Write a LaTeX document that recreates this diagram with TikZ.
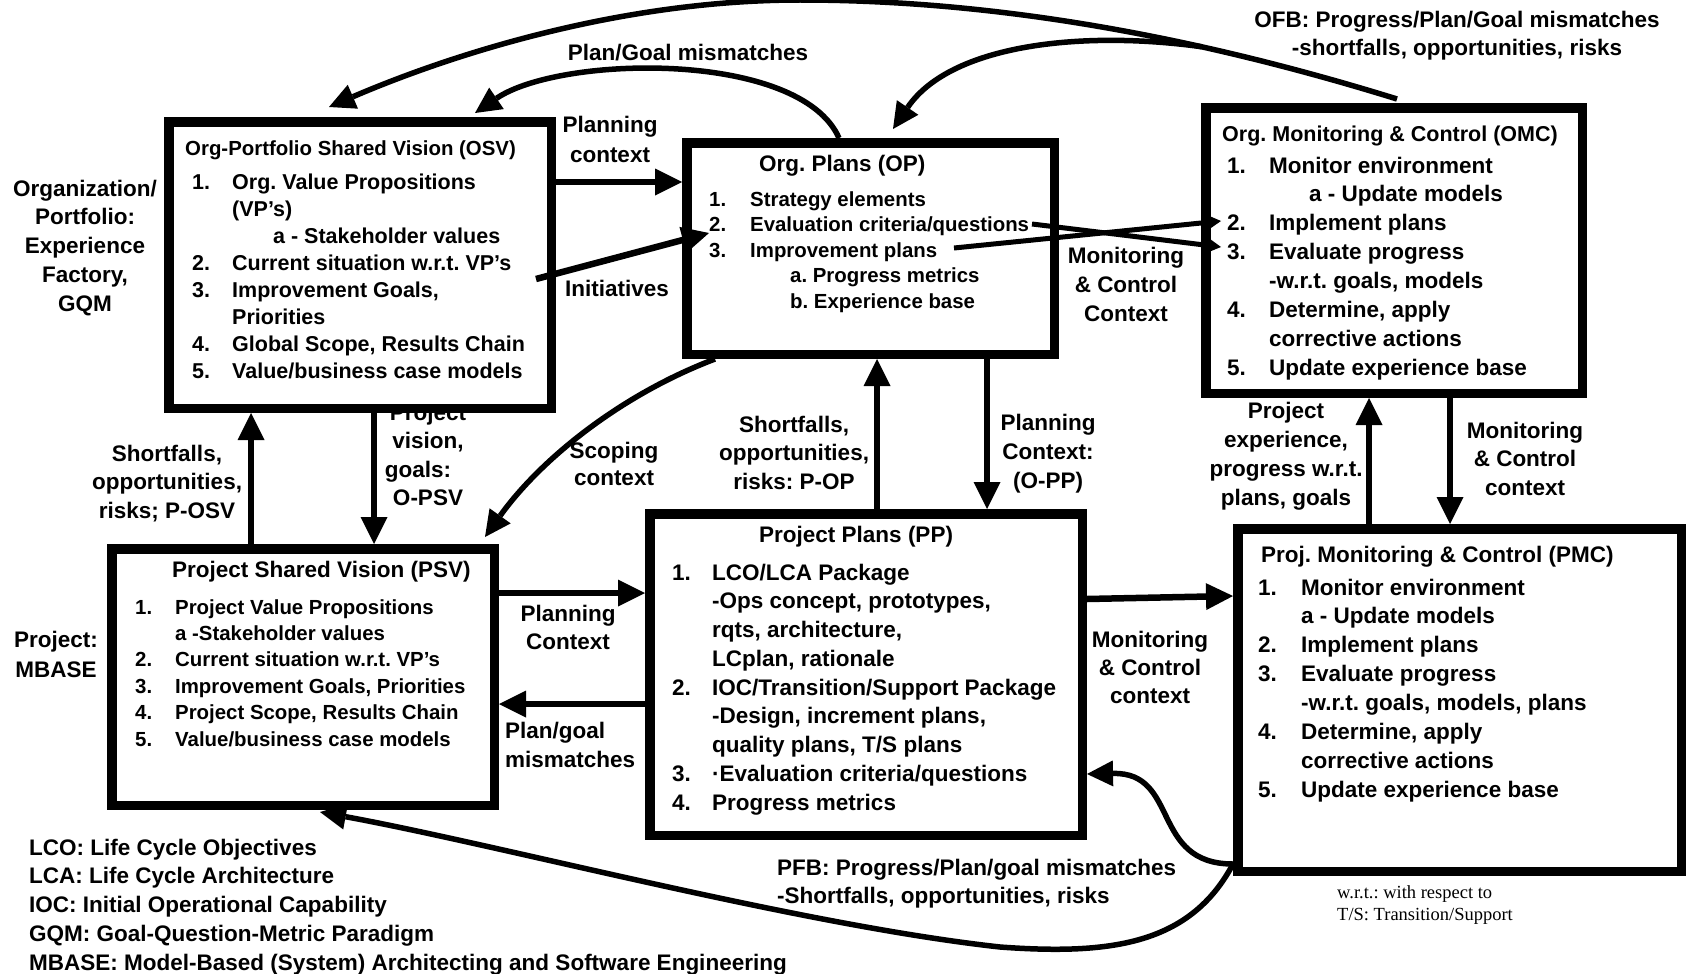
\documentclass[tikz,border=0pt]{standalone}
\usepackage{fontspec}
\setmainfont{Liberation Sans}
\newfontfamily\notefont{Liberation Serif}
\usepackage{array}
\usetikzlibrary{arrows.meta}
\frenchspacing

% stacked text blocks whose base anchor is the first baseline
\newcommand\ctab[1]{\begin{tabular}[t]{@{}c@{}}#1\end{tabular}}
\newcommand\ltab[1]{\begin{tabular}[t]{@{}l@{}}#1\end{tabular}}
\newcommand\itemtab[2]{\begin{tabular}[t]{@{}p{#1}@{}l@{}}#2\end{tabular}}

\begin{document}
\begin{tikzpicture}[x=1pt,y=-1pt,
  blk/.style={draw=black, fill=white, line width=9.5pt, inner sep=0pt},
  con/.style={line width=6.5pt, -{Triangle[length=27pt,width=27pt,line width=0pt]}},
  cur/.style={line width=5.5pt, -{Triangle[length=26pt,width=26pt,line width=0pt]}},
  xcon/.style={line width=5pt, -{Triangle[length=18pt,width=20pt,line width=0pt]}},
  txt/.style 2 args={inner sep=0pt, font=\fontsize{#1}{#2}\selectfont\bfseries},
  lbl/.style={txt={22.5}{28.5}},
  note/.style={inner sep=0pt, font=\notefont\fontsize{18.5}{22}\selectfont}]

\fill[white] (0,0) rectangle (1686,974);
\useasboundingbox (0,0) rectangle (1686,974);

% label tucked partly under the OSV frame
\node[lbl, anchor=base] (pvis) at (428,420)
  {\ctab{Project\\vision,\\goals:\hspace*{20pt}\\O-PSV}};

% ---------- frames ----------
\node[blk, minimum width=382.5pt, minimum height=286.5pt] (osv) at (360,265) {};
\node[blk, minimum width=367.5pt, minimum height=211.5pt] (op)  at (870.5,248.5) {};
\node[blk, minimum width=376.5pt, minimum height=285.5pt] (omc) at (1394,250.5) {};
\node[blk, minimum width=382.5pt, minimum height=256.5pt] (psv) at (303,677) {};
\node[blk, minimum width=432.5pt, minimum height=321.5pt] (pp)  at (866,674.5) {};
\node[blk, minimum width=443.5pt, minimum height=342.5pt] (pmc) at (1459.5,700) {};

% ---------- frame contents ----------
\node[txt={20.4}{24}, anchor=base west] (osvT) at (185,155) {Org-Portfolio Shared Vision (OSV)};
\node[txt={21.5}{27.1}, anchor=base west] (osvL) at (192,189) {\itemtab{40pt}{%
  1.&Org. Value Propositions\\
    &(VP's)\\
    &\hspace*{41pt}a - Stakeholder values\\
  2.&Current situation w.r.t. VP's\\
  3.&Improvement Goals,\\
    &Priorities\\
  4.&Global Scope, Results Chain\\
  5.&Value/business case models}};

\node[txt={22.5}{27}, anchor=base west] (opT) at (759,171) {Org. Plans (OP)};
\node[txt={20.4}{25.5}, anchor=base west] (opL) at (709,206) {\itemtab{41pt}{%
  1.&Strategy elements\\
  2.&Evaluation criteria/questions\\
  3.&Improvement plans\\
    &\hspace*{40pt}a. Progress metrics\\
    &\hspace*{40pt}b. Experience base}};

\node[txt={21.5}{26}, anchor=base west] (omcT) at (1222,141) {Org. Monitoring \& Control (OMC)};
\node[txt={22.5}{28.86}, anchor=base west] (omcL) at (1227,173) {\itemtab{42pt}{%
  1.&Monitor environment\\
    &\hspace*{40pt}a - Update models\\
  2.&Implement plans\\
  3.&Evaluate progress\\
    &-w.r.t. goals, models\\
  4.&Determine, apply\\
    &corrective actions\\
  5.&Update experience base}};

\node[txt={22.5}{27}, anchor=base west] (psvT) at (172,577) {Project Shared Vision (PSV)};
\node[txt={20.4}{26.4}, anchor=base west] (psvL) at (135,614) {\itemtab{40pt}{%
  1.&Project Value Propositions\\
    &a -Stakeholder values\\
  2.&Current situation w.r.t. VP's\\
  3.&Improvement Goals, Priorities\\
  4.&Project Scope, Results Chain\\
  5.&Value/business case models}};

\node[txt={22.5}{27}, anchor=base west] (ppT) at (759,542) {Project Plans (PP)};
\node[txt={22.5}{28.75}, anchor=base west] (ppL) at (672,580) {\itemtab{40pt}{%
  1.&LCO/LCA Package\\
    &-Ops concept, prototypes,\\
    &rqts, architecture,\\
    &LCplan, rationale\\
  2.&IOC/Transition/Support Package\\
    &-Design, increment plans,\\
    &quality plans, T/S plans\\
  3.&·Evaluation criteria/questions\\
  4.&Progress metrics}};

\node[txt={22.5}{27}, anchor=base west] (pmcT) at (1261,562) {Proj. Monitoring \& Control (PMC)};
\node[txt={22.5}{28.9}, anchor=base west] (pmcL) at (1258,595) {\itemtab{43pt}{%
  1.&Monitor environment\\
    &a - Update models\\
  2.&Implement plans\\
  3.&Evaluate progress\\
    &-w.r.t. goals, models, plans\\
  4.&Determine, apply\\
    &corrective actions\\
  5.&Update experience base}};

% ---------- labels ----------
\node[txt={22.5}{28.8}, anchor=base] (orgL) at (85,196)
  {\ctab{Organization/\\Portfolio:\\Experience\\Factory,\\GQM}};
\node[txt={22.5}{30}, anchor=base] (projL) at (56,647) {\ctab{Project:\\MBASE}};
\node[lbl, anchor=base] (sfosv) at (167,461) {\ctab{Shortfalls,\\opportunities,\\risks; P-OSV}};
\node[txt={22.5}{30}, anchor=base] (pc1) at (610,132) {\ctab{Planning\\context}};
\node[lbl, anchor=base] (init) at (617,296) {Initiatives};
\node[lbl, anchor=base] (pgm1) at (688,60) {Plan/Goal mismatches};
\node[txt={22.5}{27}, anchor=base] (scope) at (614,458) {\ctab{Scoping\\context}};
\node[lbl, anchor=base] (sfop) at (794,432) {\ctab{Shortfalls,\\opportunities,\\risks: P-OP}};
\node[txt={22.5}{29}, anchor=base] (pc2) at (1048,430) {\ctab{Planning\\Context:\\(O-PP)}};
\node[txt={22.5}{29}, anchor=base] (mcc1) at (1126,263) {\ctab{Monitoring\\\& Control\\Context}};
\node[txt={22.5}{28}, anchor=base] (ofb) at (1457,28)
  {\ctab{OFB: Progress/Plan/Goal mismatches\\-shortfalls, opportunities, risks}};
\node[txt={22.5}{29}, anchor=base] (pexp) at (1286,418)
  {\ctab{Project\\experience,\\progress w.r.t.\\plans, goals}};
\node[lbl, anchor=base] (mcc2) at (1525,438) {\ctab{Monitoring\\\& Control\\context}};
\node[txt={22.5}{28}, anchor=base] (pc3) at (568,621) {\ctab{Planning\\Context}};
\node[txt={22.5}{29}, anchor=base west] (pgm2) at (505,738) {\ltab{Plan/goal\\mismatches}};
\node[txt={22.5}{28}, anchor=base] (mcc3) at (1150,647) {\ctab{Monitoring\\\& Control\\context}};
\node[txt={22.5}{28}, anchor=base west] (pfb) at (777,875)
  {\ltab{PFB: Progress/Plan/goal mismatches\\-Shortfalls, opportunities, risks}};
\node[txt={22.5}{28.8}, anchor=base west] (legend) at (29,855) {\ltab{%
  LCO: Life Cycle Objectives\\
  LCA: Life Cycle Architecture\\
  IOC: Initial Operational Capability\\
  GQM: Goal-Question-Metric Paradigm\\
  MBASE: Model-Based (System) Architecting and Software Engineering}};
\node[note, anchor=base west] (notes) at (1337,898)
  {\ltab{w.r.t.: with respect to\\T/S: Transition/Support}};

% ---------- connectors ----------
% organization level
\draw[con] ([yshift=-65pt]osv.north east) -- ([yshift=-44pt]op.north west);
\draw[con] ([xshift=-20pt,yshift=-162pt]osv.north east) -- ([xshift=27pt,yshift=-95pt]op.north west);
\draw[xcon] ([xshift=350pt,yshift=-86pt]op.north west) -- ([xshift=20pt,yshift=-144pt]omc.north west);
\draw[xcon] ([xshift=272pt,yshift=-110pt]op.north west) -- ([xshift=20pt,yshift=-118pt]omc.north west);
\draw[cur] ([xshift=157pt]op.north west) .. controls (800,50) and (560,55) ..
  ([xshift=311pt,yshift=4pt]osv.north west);
\draw[cur] ([xshift=196pt,yshift=4pt]omc.north west) .. controls (1200,38) and (1000,0) ..
  (800,0) coordinate[pos=0.33] (ofbsplit) .. controls (620,0) and (450,55) ..
  ([xshift=165pt,yshift=10pt]osv.north west);
\draw[cur] (ofbsplit) .. controls (1080,30) and (950,45) .. ([xshift=211pt,yshift=9pt]op.north west);

% between levels
\draw[cur] ([xshift=33pt]op.south west) .. controls (620,395) and (540,460) ..
  ([xshift=-14pt,yshift=7pt]psv.north east);
\draw[con] ([xshift=144pt]psv.north west) -- ([xshift=87pt]osv.south west);
\draw[con] ([xshift=210pt]osv.south west) -- ([xshift=267pt]psv.north west);
\draw[con] ([xshift=232pt]pp.north west) -- ([xshift=195pt]op.south west);
\draw[con] ([xshift=305pt]op.south west) -- ([xshift=342pt]pp.north west);
\draw[con] ([xshift=136pt]pmc.north west) -- ([xshift=168pt]omc.south west);
\draw[con] ([xshift=249pt]omc.south west) -- ([xshift=217pt]pmc.north west);

% project level
\draw[con] ([yshift=-49pt]psv.north east) -- ([yshift=-84pt]pp.north west);
\draw[con] ([yshift=-195pt]pp.north west) -- ([yshift=-160pt]psv.north east);
\draw[con] ([yshift=-90pt]pp.north east) -- ([yshift=-72pt]pmc.north west);
\coordinate (pfbstart) at ([yshift=12pt]pmc.south west);
\draw[cur] (pfbstart) .. controls (1150,864) and (1180,772) .. ([yshift=-265pt]pp.north east);
\draw[cur] (pfbstart) .. controls (1190,945) and (1110,955) .. (1000,947)
  .. controls (800,925) and (500,845) .. ([xshift=213pt,yshift=-2pt]psv.south west);
\end{tikzpicture}
\end{document}
